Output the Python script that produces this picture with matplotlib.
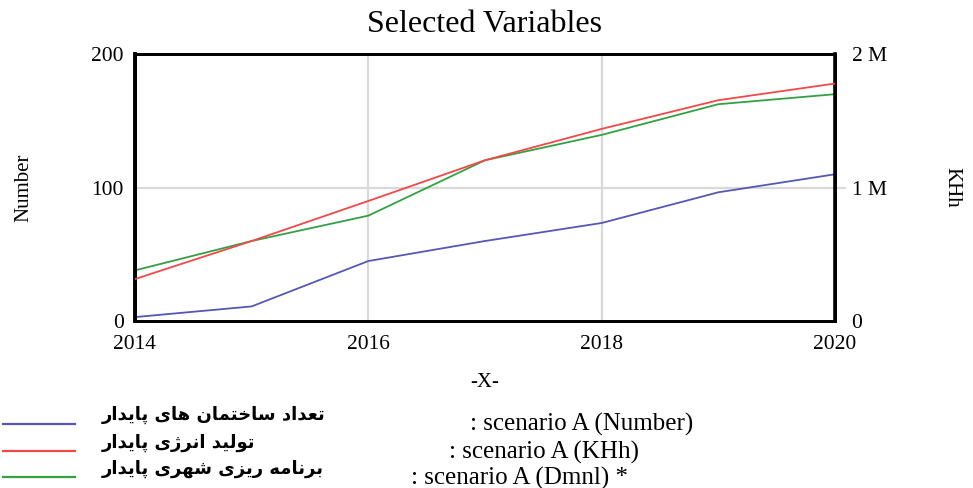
import numpy as np
import matplotlib
matplotlib.use("Agg")
import matplotlib.pyplot as plt
from matplotlib.ticker import FuncFormatter

# ------------------#
# Data
# ------------------#
years = [2014, 2015, 2016, 2017, 2018, 2019, 2020]
buildings = [3, 11, 45, 60, 73.5, 96.5, 110]                           # Number
energy = [0.315e6, 0.60e6, 0.90e6, 1.205e6, 1.44e6, 1.655e6, 1.78e6]  # KHh
planning = [38, 60, 79, 120.5, 139.5, 162.5, 170]                      # Dmnl

x_ticks = [2014, 2016, 2018, 2020]
left_ticks = [0, 100, 200]
right_ticks = [0, 1e6, 2e6]

names_fa = ["تعداد ساختمان های پایدار", "تولید انرژی پایدار", "برنامه ریزی شهری پایدار"]
names_en = [": scenario A (Number)", ": scenario A (KHh)", ": scenario A (Dmnl) *"]
colors = ["#5558b4", "#f24848", "#34a044"]

# ------------------#
# Simple Persian shaping (matplotlib draws no contextual forms)
# ------------------#
FORMS = {
    "\u0627": ("\uFE8D", "\uFE8E"),
    "\u0628": ("\uFE8F", "\uFE90", "\uFE91", "\uFE92"),
    "\u067E": ("\uFB56", "\uFB57", "\uFB58", "\uFB59"),
    "\u062A": ("\uFE95", "\uFE96", "\uFE97", "\uFE98"),
    "\u062E": ("\uFEA5", "\uFEA6", "\uFEA7", "\uFEA8"),
    "\u062F": ("\uFEA9", "\uFEAA"),
    "\u0631": ("\uFEAD", "\uFEAE"),
    "\u0632": ("\uFEAF", "\uFEB0"),
    "\u0698": ("\uFB8A", "\uFB8B"),
    "\u0633": ("\uFEB1", "\uFEB2", "\uFEB3", "\uFEB4"),
    "\u0634": ("\uFEB5", "\uFEB6", "\uFEB7", "\uFEB8"),
    "\u0639": ("\uFEC9", "\uFECA", "\uFECB", "\uFECC"),
    "\u0644": ("\uFEDD", "\uFEDE", "\uFEDF", "\uFEE0"),
    "\u0645": ("\uFEE1", "\uFEE2", "\uFEE3", "\uFEE4"),
    "\u0646": ("\uFEE5", "\uFEE6", "\uFEE7", "\uFEE8"),
    "\u0647": ("\uFEE9", "\uFEEA", "\uFEEB", "\uFEEC"),
    "\u0648": ("\uFEED", "\uFEEE"),
    "\u06CC": ("\uFBFC", "\uFBFD", "\uFBFE", "\uFBFF"),
}


def shape(text):
    out = []
    for word in text.split(" "):
        glyphs = []
        for i, c in enumerate(word):
            f = FORMS.get(c)
            if f is None:
                glyphs.append(c)
                continue
            prev_join = i > 0 and len(FORMS.get(word[i - 1], ())) == 4
            next_join = len(f) == 4 and i < len(word) - 1 and word[i + 1] in FORMS
            if prev_join and next_join:
                glyphs.append(f[3])
            elif prev_join:
                glyphs.append(f[1])
            elif next_join:
                glyphs.append(f[2])
            else:
                glyphs.append(f[0])
        out.append("".join(glyphs))
    return " ".join(out)[::-1]


plt.rcParams["font.family"] = ["Liberation Serif", "DejaVu Sans"]

fig = plt.figure(figsize=(9.73, 4.88), dpi=100)
ax = fig.add_axes([0.1387, 0.342, 0.7194, 0.547])
ax2 = ax.twinx()

ax.plot(years, buildings, color=colors[0], lw=1.3, zorder=3)
ax.plot(years, planning, color=colors[2], lw=1.3, zorder=3)
ax2.plot(years, energy, color=colors[1], lw=1.3, zorder=3)

ax.set_xlim(2014, 2020)
ax.set_ylim(0, 200)
ax2.set_ylim(0, 2e6)
ax.set_xticks(x_ticks)
ax.set_yticks(left_ticks)
ax2.set_yticks(right_ticks)
ax2.yaxis.set_major_formatter(FuncFormatter(lambda v, p: "0" if v == 0 else f"{v / 1e6:.0f} M"))

# grid only inside the frame (the 100 line pokes out on the right like a tick)
for xv in x_ticks[1:-1]:
    ax.axvline(xv, color="#d9d9d9", lw=1.6, zorder=1)
ax.axhline(100, xmin=0, xmax=1.015, color="#d9d9d9", lw=1.6, zorder=1, clip_on=False)

ax.tick_params(axis="both", length=0, labelsize=15.5)
ax.tick_params(axis="y", pad=8)
ax.tick_params(axis="x", pad=10)
ax2.tick_params(axis="y", length=0, labelsize=15.5, pad=12)

for a in (ax, ax2):
    for side in a.spines:
        a.spines[side].set_linewidth(2)
        a.spines[side].set_color("black")
ax.spines["left"].set_linewidth(2.8)
ax2.spines["right"].set_linewidth(2.6)

ax.set_ylabel("Number", fontsize=15, labelpad=42)
ax2.set_ylabel("KHh", fontsize=15, rotation=-90, labelpad=40, va="bottom")
ax.set_xlabel("-X-", fontsize=15, labelpad=14)
ax.set_title("Selected Variables", fontsize=23, pad=16)

# legend below the chart
rows_y = [0.132, 0.075, 0.022]
en_x = [0.483, 0.461, 0.422]
for i in range(3):
    y = rows_y[i]
    fig.add_artist(plt.Line2D([0.003, 0.077], [y, y], color=colors[i], lw=1.6,
                              transform=fig.transFigure))
    fig.text(0.105, y + 0.018, shape(names_fa[i]), family="DejaVu Sans",
             fontweight="bold", fontsize=13, va="center", ha="left")
    fig.text(en_x[i], y - 0.002, names_en[i], fontsize=18, va="center", ha="left")

fig.savefig("out.png", dpi=100)
